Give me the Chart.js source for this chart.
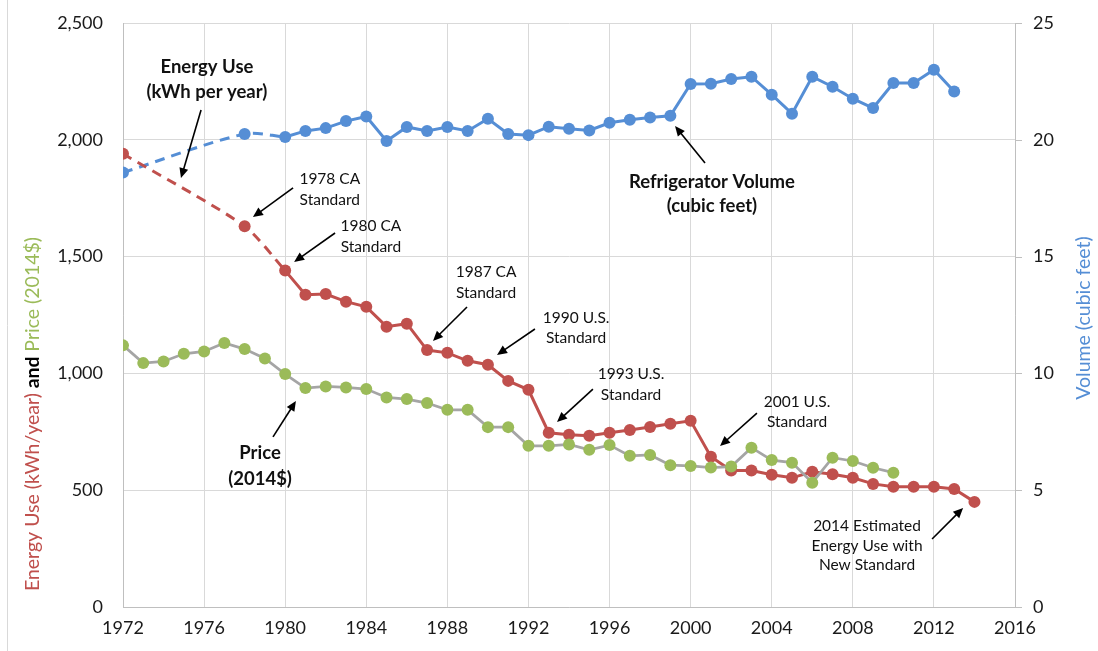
<!DOCTYPE html>
<html>
<head>
<meta charset="utf-8">
<script src="https://cdn.jsdelivr.net/npm/chart.js@4.4.1/dist/chart.umd.min.js"></script>
<style>
  html, body { margin: 0; padding: 0; background: #fff; }
  #wrap { width: 1098px; height: 651px; position: relative; }
</style>
</head>
<body>
<div id="wrap"><canvas id="c" width="1098" height="651"></canvas></div>
<script>
// ---- DATA ----
const energyYears = [1972,1978,1980,1981,1982,1983,1984,1985,1986,1987,1988,1989,1990,1991,1992,1993,1994,1995,1996,1997,1998,1999,2000,2001,2002,2003,2004,2005,2006,2007,2008,2009,2010,2011,2012,2013,2014];
const energyUse = [1940,1630,1440,1337,1340,1307,1285,1200,1213,1100,1088,1054,1037,968,930,746,737,733,746,758,771,784,797,643,584,584,566,553,579,568,553,527,515,515,515,505,450];

const priceYears = [1972,1973,1974,1975,1976,1977,1978,1979,1980,1981,1982,1983,1984,1985,1986,1987,1988,1989,1990,1991,1992,1993,1994,1995,1996,1997,1998,1999,2000,2001,2002,2003,2004,2005,2006,2007,2008,2009,2010];
const price = [1120,1044,1051,1084,1094,1130,1104,1064,997,937,944,940,933,897,890,873,844,844,770,770,690,690,696,673,693,647,651,607,604,597,601,682,629,618,532,639,625,596,575];

const volumeYears = [1972,1978,1980,1981,1982,1983,1984,1985,1986,1987,1988,1989,1990,1991,1992,1993,1994,1995,1996,1997,1998,1999,2000,2001,2002,2003,2004,2005,2006,2007,2008,2009,2010,2011,2012,2013];
const volume = [18.6,20.25,20.12,20.38,20.5,20.8,21.0,19.95,20.55,20.38,20.55,20.38,20.9,20.25,20.2,20.56,20.47,20.4,20.73,20.86,20.95,21.03,22.39,22.4,22.6,22.7,21.93,21.12,22.7,22.27,21.76,21.36,22.43,22.43,23.0,22.07];

const firstSolidYear = 1980; // earlier segments are estimated (dashed)

const leftTicks = [0, 500, 1000, 1500, 2000, 2500];
const rightTicks = [0, 5, 10, 15, 20, 25];
const xTicks = [1972,1976,1980,1984,1988,1992,1996,2000,2004,2008,2012,2016];

// ---- annotations (data coordinates) ----
const notes = [
  {lines:['Energy Use','(kWh per year)'], x:1976.14, ys:[2311,2204], bold:true, arrow:[1975.85,2128,1974.86,1836]},
  {lines:['1978 CA','Standard'], x:1982.2, ys:[1832,1742], arrow:[1980.39,1794,1978.41,1669]},
  {lines:['1980 CA','Standard'], x:1984.23, ys:[1631,1541], arrow:[1982.46,1601,1980.44,1477]},
  {lines:['1987 CA','Standard'], x:1989.91, ys:[1434,1344], arrow:[1988.97,1284,1987.29,1139]},
  {lines:['1990 U.S.','Standard'], x:1994.35, ys:[1237,1151], arrow:[1992.32,1190,1990.45,1079]},
  {lines:['1993 U.S.','Standard'], x:1997.06, ys:[997,907], arrow:[1995.18,933,1993.41,792]},
  {lines:['2001 U.S.','Standard'], x:2005.25, ys:[877,792], arrow:[2003.27,830,2001.45,689]},
  {lines:['2014 Estimated','Energy Use with','New Standard'], x:2008.7, ys:[347,261,180], arrow:[2011.91,291,2013.44,424]},
  {lines:['Refrigerator Volume','(cubic feet)'], x:2001.05, ys:[1819,1717], bold:true, arrow:[2000.71,1901,1999.23,2059]},
  {lines:['Price','(2014$)'], x:1978.76, ys:[659,548], bold:true, arrow:[1979.40,728,1980.53,882]}
];

const RED = '#c0504d', GREEN = '#9bbb59', BLUE = '#558ed5', GRAY = '#a5a5a5';
const FONT = 'Lato, "Open Sans", sans-serif';

function pts(xs, ys) { return xs.map((x, i) => ({x, y: ys[i]})); }
function subset(xs, ys, maxX) { const o=[]; xs.forEach((x,i)=>{ if (x<=maxX) o.push({x, y:ys[i]}); }); return o; }

Chart.defaults.font.family = FONT;
Chart.defaults.font.size = 18;
Chart.defaults.color = '#1a1a1a';

const overlay = {
  id: 'overlay',
  afterDraw(chart) {
    const ctx = chart.ctx;
    const sx = chart.scales.x, sy = chart.scales.y, sy1 = chart.scales.y1;
    ctx.save();
    // outer border on the left
    ctx.strokeStyle = '#d9d9d9'; ctx.lineWidth = 1;
    ctx.beginPath(); ctx.moveTo(7.5, 0); ctx.lineTo(7.5, 651); ctx.stroke();

    // short outward tick marks on the right axis
    ctx.strokeStyle = '#bfbfbf'; ctx.lineWidth = 1;
    const rx = chart.chartArea.right;
    rightTicks.forEach(v => {
      const py = Math.round(sy1.getPixelForValue(v)) + 0.5;
      ctx.beginPath(); ctx.moveTo(rx, py); ctx.lineTo(rx + 7, py); ctx.stroke();
    });

    // annotations
    notes.forEach(n => {
      ctx.font = (n.bold ? 'bold 18.5px ' : '15.5px ') + FONT;
      ctx.fillStyle = '#111';
      ctx.textAlign = 'center'; ctx.textBaseline = 'middle';
      n.lines.forEach((t, i) => ctx.fillText(t, sx.getPixelForValue(n.x), sy.getPixelForValue(n.ys[i])));
      const [x0,y0,x1,y1] = n.arrow;
      const ax = sx.getPixelForValue(x0), ay = sy.getPixelForValue(y0);
      const bx = sx.getPixelForValue(x1), by = sy.getPixelForValue(y1);
      const ang = Math.atan2(by-ay, bx-ax);
      const L = 10, W = 4.5;
      ctx.strokeStyle = '#000'; ctx.lineWidth = 1.6;
      ctx.beginPath(); ctx.moveTo(ax, ay);
      ctx.lineTo(bx - Math.cos(ang)*L*0.8, by - Math.sin(ang)*L*0.8); ctx.stroke();
      ctx.fillStyle = '#000';
      ctx.beginPath();
      ctx.moveTo(bx, by);
      ctx.lineTo(bx - Math.cos(ang)*L - Math.sin(ang)*W, by - Math.sin(ang)*L + Math.cos(ang)*W);
      ctx.lineTo(bx - Math.cos(ang)*L + Math.sin(ang)*W, by - Math.sin(ang)*L - Math.cos(ang)*W);
      ctx.closePath(); ctx.fill();
    });

    // left axis title (multi-coloured)
    const parts = [
      {t:'Energy Use (kWh/year)', c:RED, f:'19.5px '+FONT},
      {t:' and ', c:'#000', f:'bold 19.5px '+FONT},
      {t:'Price (2014$)', c:GREEN, f:'19.5px '+FONT}
    ];
    let total = 0;
    parts.forEach(p => { ctx.font = p.f; p.w = ctx.measureText(p.t).width; total += p.w; });
    ctx.translate(33, 414); ctx.rotate(-Math.PI/2);
    ctx.textAlign = 'left'; ctx.textBaseline = 'middle';
    let cx = -total/2;
    parts.forEach(p => { ctx.font = p.f; ctx.fillStyle = p.c; ctx.fillText(p.t, cx, 0); cx += p.w; });
    ctx.setTransform(1,0,0,1,0,0);
    // right axis title
    ctx.translate(1084, 318); ctx.rotate(-Math.PI/2);
    ctx.font = '19.5px ' + FONT; ctx.fillStyle = BLUE; ctx.textAlign = 'center'; ctx.textBaseline = 'middle';
    ctx.fillText('Volume (cubic feet)', 0, 0);
    ctx.restore();
  }
};

const dashSeg = { borderColor: ctx => ctx.p0.parsed.x < firstSolidYear ? 'rgba(0,0,0,0)' : undefined };

new Chart(document.getElementById('c'), {
  type: 'line',
  data: {
    datasets: [
      { label:'Price', data: pts(priceYears, price), yAxisID:'y', borderColor: GRAY, backgroundColor: GREEN,
        pointBackgroundColor: GREEN, pointBorderWidth: 0, pointRadius: 6, borderWidth: 2.75, tension: 0 },
      { label:'Energy Use', data: pts(energyYears, energyUse), yAxisID:'y', borderColor: RED, backgroundColor: RED,
        pointBackgroundColor: RED, pointBorderWidth: 0, pointRadius: 6, borderWidth: 3, tension: 0, segment: dashSeg },
      { label:'Energy Use est', data: subset(energyYears, energyUse, firstSolidYear), yAxisID:'y', borderColor: RED,
        borderDash:[10,7], borderWidth: 3, pointRadius: 0, tension: 0.25 },
      { label:'Volume', data: pts(volumeYears, volume), yAxisID:'y1', borderColor: BLUE, backgroundColor: BLUE,
        pointBackgroundColor: BLUE, pointBorderWidth: 0, pointRadius: 6, borderWidth: 3, tension: 0, segment: dashSeg },
      { label:'Volume est', data: subset(volumeYears, volume, firstSolidYear), yAxisID:'y1', borderColor: BLUE,
        borderDash:[10,7], borderWidth: 3, pointRadius: 0, tension: 0.3 }
    ]
  },
  options: {
    responsive: false,
    animation: false,
    events: [],
    layout: { padding: { top: 23, left: 0, right: 0, bottom: 0 } },
    plugins: { legend: { display: false }, tooltip: { enabled: false } },
    scales: {
      x: {
        type: 'linear', min: 1972, max: 2016,
        afterBuildTicks: s => { s.ticks = xTicks.map(v => ({value: v})); },
        afterFit: s => { s.height = 44; },
        ticks: { callback: v => String(v), padding: 10, maxRotation: 0, autoSkip: false },
        grid: { color: '#d9d9d9', drawTicks: false },
        border: { color: '#bfbfbf' }
      },
      y: {
        position: 'left', min: 0, max: 2500,
        afterBuildTicks: s => { s.ticks = leftTicks.map(v => ({value: v})); },
        afterFit: s => { s.width = 123; },
        ticks: { callback: v => v.toLocaleString('en-US'), padding: 0 },
        grid: { color: '#d9d9d9', drawTicks: true, tickLength: 20, tickColor: 'rgba(0,0,0,0)' },
        border: { color: '#bfbfbf' }
      },
      y1: {
        position: 'right', min: 0, max: 25,
        afterBuildTicks: s => { s.ticks = rightTicks.map(v => ({value: v})); },
        afterFit: s => { s.width = 83; },
        ticks: { padding: 0 },
        grid: { drawOnChartArea: false, drawTicks: true, tickLength: 18, tickColor: 'rgba(0,0,0,0)' },
        border: { color: '#bfbfbf' }
      }
    }
  },
  plugins: [overlay]
});
</script>
</body>
</html>
